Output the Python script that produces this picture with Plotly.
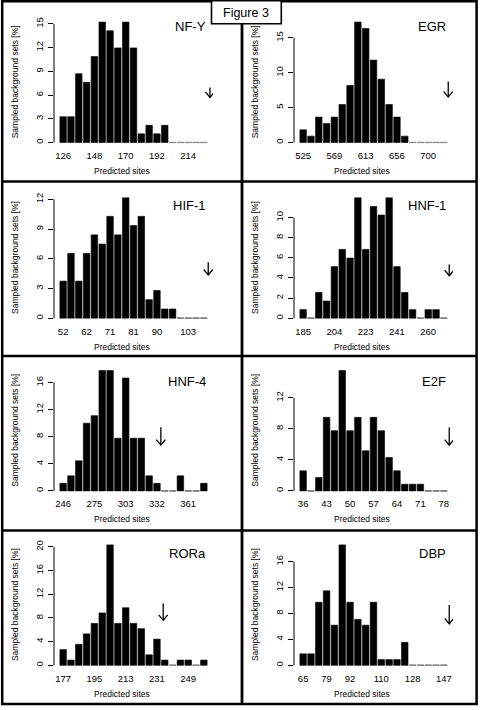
import plotly.graph_objects as go

# ---------------- data ----------------
panel_names = ["NF-Y", "EGR", "HIF-1", "HNF-1", "HNF-4", "E2F", "RORa", "DBP"]

nfy_values = [3.26, 3.26, 8.70, 7.61, 10.87, 15.22, 14.13, 11.96, 15.22, 11.96, 1.09, 2.17, 1.09, 2.17, 0, 0, 0, 0, 0]
nfy_tick_pos = [1, 5, 9, 13, 17]
nfy_tick_labels = ["126", "148", "170", "192", "214"]
nfy_yticks = [0, 3, 6, 9, 12, 15]
nfy_arrow = [19.78, 6.96, 5.70]   # x (bin), arrow top, arrow tip

egr_values = [1.82, 0.91, 3.64, 2.73, 3.64, 5.45, 8.18, 17.27, 16.36, 11.82, 9.09, 5.45, 3.64, 0.91, 0, 0, 0, 0, 0]
egr_tick_pos = [1, 5, 9, 13, 17]
egr_tick_labels = ["525", "569", "613", "656", "700"]
egr_yticks = [0, 5, 10, 15]
egr_arrow = [19.56, 8.76, 6.52]

hif1_values = [3.74, 6.54, 3.74, 6.54, 8.41, 7.48, 10.28, 8.41, 12.15, 9.35, 10.28, 1.87, 2.80, 0.93, 0.93, 0, 0, 0, 0]
hif1_tick_pos = [1, 4, 7, 10, 13, 17]
hif1_tick_labels = ["52", "62", "71", "81", "90", "103"]
hif1_yticks = [0, 3, 6, 9, 12]
hif1_arrow = [19.56, 5.65, 4.36]

hnf1_values = [0.85, 0, 2.56, 1.71, 5.13, 6.84, 5.98, 11.97, 6.84, 11.11, 10.26, 11.97, 5.13, 2.56, 0.85, 0, 0.85, 0.85, 0]
hnf1_tick_pos = [1, 5, 9, 13, 17]
hnf1_tick_labels = ["185", "204", "223", "241", "260"]
hnf1_yticks = [0, 2, 4, 6, 8, 10]
hnf1_arrow = [19.69, 5.35, 4.22]

hnf4_values = [1.11, 2.22, 4.44, 10.0, 11.11, 17.78, 17.78, 7.78, 16.67, 7.78, 7.78, 2.22, 1.11, 0, 0, 2.22, 0, 0, 1.11]
hnf4_tick_pos = [1, 5, 9, 13, 17]
hnf4_tick_labels = ["246", "275", "303", "332", "361"]
hnf4_yticks = [0, 4, 8, 12, 16]
hnf4_arrow = [13.5, 9.39, 6.77]

e2f_values = [2.59, 0, 1.72, 9.48, 7.76, 15.52, 7.76, 9.48, 5.17, 9.48, 7.76, 4.31, 2.59, 0.86, 0.86, 0.86, 0, 0, 0]
e2f_tick_pos = [1, 4, 7, 10, 13, 16, 19]
e2f_tick_labels = ["36", "43", "50", "57", "64", "71", "78"]
e2f_yticks = [0, 4, 8, 12]
e2f_arrow = [19.69, 8.18, 5.90]

rora_values = [2.65, 0.88, 3.54, 5.31, 7.08, 8.85, 20.35, 7.08, 9.73, 7.08, 6.19, 1.77, 4.42, 0.88, 0, 0.88, 0.88, 0, 0.88]
rora_tick_pos = [1, 5, 9, 13, 17]
rora_tick_labels = ["177", "195", "213", "231", "249"]
rora_yticks = [0, 4, 8, 12, 16, 20]
rora_arrow = [13.8, 10.46, 7.60]

dbp_values = [1.77, 1.77, 9.73, 11.50, 6.19, 18.58, 9.73, 7.08, 6.19, 9.73, 0.88, 0.88, 0.88, 3.54, 0, 0, 0, 0, 0]
dbp_tick_pos = [1, 4, 7, 11, 15, 19]
dbp_tick_labels = ["65", "79", "92", "110", "128", "147"]
dbp_yticks = [0, 4, 8, 12, 16]
dbp_arrow = [19.69, 9.30, 6.39]

panels = [
    (nfy_values, nfy_tick_pos, nfy_tick_labels, nfy_yticks, nfy_arrow),
    (egr_values, egr_tick_pos, egr_tick_labels, egr_yticks, egr_arrow),
    (hif1_values, hif1_tick_pos, hif1_tick_labels, hif1_yticks, hif1_arrow),
    (hnf1_values, hnf1_tick_pos, hnf1_tick_labels, hnf1_yticks, hnf1_arrow),
    (hnf4_values, hnf4_tick_pos, hnf4_tick_labels, hnf4_yticks, hnf4_arrow),
    (e2f_values, e2f_tick_pos, e2f_tick_labels, e2f_yticks, e2f_arrow),
    (rora_values, rora_tick_pos, rora_tick_labels, rora_yticks, rora_arrow),
    (dbp_values, dbp_tick_pos, dbp_tick_labels, dbp_yticks, dbp_arrow),
]

# ---------------- layout geometry (pixels) ----------------
W, H = 481, 710
FONT = "Liberation Sans, Arial, Helvetica, sans-serif"
col_x = [(54, 213), (294, 453)]
row_top = [17.3, 193.0, 365.7, 540.1]
plot_h = 130.0
row_lines = [181.5, 356.0, 530.5]
frame = (2.2, 1.2, 476.6, 704.0)
col_line = 242.0
title_right = [207.5, 448.0]
title_dy = [9.5, 12.0, 16.0, 13.2]

def fx(p):
    return p / W

def fy(p):
    return 1 - p / H

fig = go.Figure()
layout = dict(
    width=W, height=H,
    margin=dict(l=0, r=0, t=0, b=0),
    paper_bgcolor="white", plot_bgcolor="white",
    showlegend=False, bargap=0,
    font=dict(family=FONT, color="black"),
)
shapes = []
annotations = []

for i, (vals, tpos, tlab, yt, arrow) in enumerate(panels):
    k = i + 1
    sfx = "" if k == 1 else str(k)
    row, col = divmod(i, 2)
    x0p, x1p = col_x[col]
    top = row_top[row]
    bot = top + plot_h
    n = len(vals)
    xs = list(range(1, n + 1))
    vmax = max(vals)

    fig.add_trace(go.Bar(
        x=xs, y=vals, width=1 / 1.2,
        marker=dict(color="black", line=dict(color="black", width=0.6)),
        xaxis="x" + sfx, yaxis="y" + sfx, hoverinfo="skip",
    ))
    zx = [x for x, v in zip(xs, vals) if v == 0]
    zy = [0 for _ in zx]
    fig.add_trace(go.Scatter(
        x=zx, y=zy, mode="markers",
        marker=dict(symbol="line-ew", size=5, line=dict(color="#8c8c8c", width=1.3)),
        xaxis="x" + sfx, yaxis="y" + sfx, hoverinfo="skip", cliponaxis=False,
    ))

    layout["xaxis" + sfx] = dict(
        domain=[fx(x0p), fx(x1p)], anchor="y" + sfx,
        range=[1 - 0.5 / 1.2 - 0.753, n + 0.5 / 1.2 + 0.753],
        tickmode="array", tickvals=tpos, ticktext=tlab,
        ticks="", showline=False, showgrid=False, zeroline=False,
        tickfont=dict(size=9.5, family=FONT, color="black"),
        ticklabelstandoff=1,
    )
    layout["yaxis" + sfx] = dict(
        domain=[fy(bot), fy(top)], anchor="x" + sfx,
        range=[-0.04 * vmax, 1.04 * vmax],
        tickmode="array", tickvals=yt, ticktext=[str(t) for t in yt],
        tickangle=-90, ticks="outside", ticklen=5.5, tickwidth=1, tickcolor="black",
        showline=False, showgrid=False, zeroline=False,
        tickfont=dict(size=9.5, family=FONT, color="black"),
        ticklabelstandoff=1,
    )
    # R-style axis line spanning first to last tick
    shapes.append(dict(type="line", xref="x%s domain" % sfx, yref="y" + sfx,
                       x0=0, x1=0, y0=yt[0], y1=yt[-1],
                       line=dict(color="black", width=1), layer="above"))
    # arrow (observed count)
    ax, atop, atip = arrow
    shapes.append(dict(type="line", xref="x" + sfx, yref="y" + sfx,
                       x0=ax, x1=ax, y0=atop, y1=atip,
                       line=dict(color="black", width=1.3)))
    shapes.append(dict(type="path", xref="x" + sfx, yref="y" + sfx,
                       xsizemode="pixel", ysizemode="pixel",
                       xanchor=ax, yanchor=atip,
                       path="M-4.5,5.5 L0,0 L4.5,5.5",
                       line=dict(color="black", width=1.3)))
    # panel title
    annotations.append(dict(text=panel_names[i], xref="paper", yref="paper",
                            x=fx(title_right[col]), y=fy(top + title_dy[row]),
                            xanchor="right", yanchor="middle", showarrow=False,
                            font=dict(size=13, family=FONT, color="black")))
    # axis titles
    annotations.append(dict(text="Sampled background sets [%]", xref="paper", yref="paper",
                            x=fx(15 + 240 * col), y=fy((top + bot) / 2),
                            xanchor="center", yanchor="middle", textangle=-90,
                            showarrow=False, font=dict(size=8.5, family=FONT, color="black")))
    annotations.append(dict(text="Predicted sites", xref="paper", yref="paper",
                            x=fx(121.5 + 240 * col), y=fy(bot + 23.5),
                            xanchor="center", yanchor="middle",
                            showarrow=False, font=dict(size=8.5, family=FONT, color="black")))

# frame and dividers
fl, ft, fr, fb = frame
shapes.append(dict(type="rect", xref="paper", yref="paper",
                   x0=fx(fl), x1=fx(fr), y0=fy(fb), y1=fy(ft),
                   line=dict(color="black", width=2.5)))
shapes.append(dict(type="line", xref="paper", yref="paper",
                   x0=fx(col_line), x1=fx(col_line), y0=fy(fb), y1=fy(ft),
                   line=dict(color="black", width=2.8)))
for yl in row_lines:
    shapes.append(dict(type="line", xref="paper", yref="paper",
                       x0=fx(fl), x1=fx(fr), y0=fy(yl), y1=fy(yl),
                       line=dict(color="black", width=2.7)))
# "Figure 3" label box
shapes.append(dict(type="rect", xref="paper", yref="paper",
                   x0=fx(211.5), x1=fx(281.3), y0=fy(23.8), y1=fy(0.8),
                   fillcolor="white", line=dict(color="black", width=1.6)))
annotations.append(dict(text="Figure 3", xref="paper", yref="paper",
                        x=fx(246.3), y=fy(13.0), xanchor="center", yanchor="middle",
                        showarrow=False, font=dict(size=12.5, family=FONT, color="black")))

layout["shapes"] = shapes
layout["annotations"] = annotations
fig.update_layout(**layout)
fig.write_html("out.html",
               config=dict(displayModeBar=False, staticPlot=True),
               post_script="document.body.style.margin='0px';document.body.style.overflow='hidden';")
